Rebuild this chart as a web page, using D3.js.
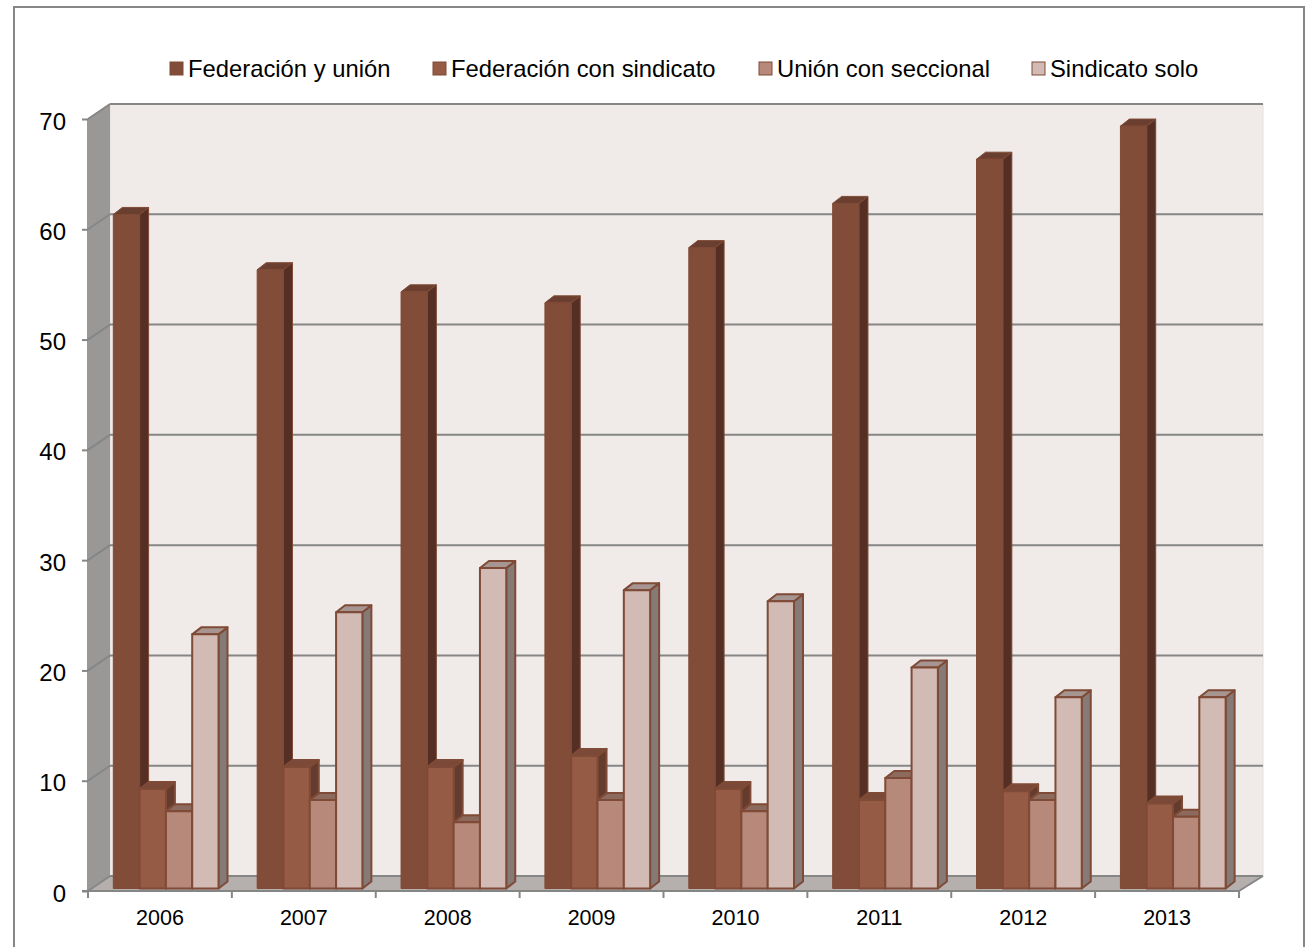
<!DOCTYPE html>
<html>
<head>
<meta charset="utf-8">
<script src="https://cdn.jsdelivr.net/npm/d3@7"></script>
<style>
  html, body { margin: 0; padding: 0; background: #fff; }
  svg { display: block; }
  text { font-family: "Liberation Sans", Arial, sans-serif; fill: #000; }
  .axis path { display: none; }
  .axis line { stroke: #868686; stroke-width: 2; }
</style>
</head>
<body>
<div id="chart"></div>
<script>
const years = ["2006", "2007", "2008", "2009", "2010", "2011", "2012", "2013"];
const seriesNames = ["Federación y unión", "Federación con sindicato", "Unión con seccional", "Sindicato solo"];
const federacionUnion = [61, 56, 54, 53, 58, 62, 66, 69];
const federacionSindicato = [9, 11, 11, 12, 9, 8, 8.8, 7.7];
const unionSeccional = [7, 8, 6, 8, 7, 10, 8, 6.5];
const sindicatoSolo = [23, 25, 29, 27, 26, 20, 17.3, 17.3];
const yTicks = [0, 10, 20, 30, 40, 50, 60, 70];

const seriesValues = [federacionUnion, federacionSindicato, unionSeccional, sindicatoSolo];
const frontColors = ["#814c38", "#965b45", "#b7897a", "#d1bbb4"];
const topColors = ["#6b3f2f", "#7a4937", "#8d6a5e", "#a69590"];
const sideColors = ["#552f24", "#643c2d", "#7a5c52", "#857a76"];
const edgeColor = "#7f4a36";

const width = 1306;
const height = 947;

// oblique depth of the chart box and of each bar
const wallDx = 22, wallDy = -15;
const barDx = 9, barDy = -7;

const svg = d3.select("#chart").append("svg")
  .attr("width", width)
  .attr("height", height)
  .attr("viewBox", `0 0 ${width} ${height}`);

// chart frame, runs off the bottom of the picture
svg.append("rect")
  .attr("x", 14).attr("y", 7)
  .attr("width", 1290).attr("height", 960)
  .attr("fill", "#fff").attr("stroke", "#868686").attr("stroke-width", 2);

const x = d3.scaleBand().domain(years).range([88, 1239]);
const y = d3.scaleLinear().domain([0, 70]).range([891, 119]);
const barY = d3.scaleLinear().domain([0, 70]).range([888.5, 115]);
const inner = d3.scaleBand().domain(d3.range(4)).range([25.3, 130.5]);

const poly = (pts) => pts.map((p) => p.join(",")).join(" ");

const x0 = x.range()[0], x1 = x.range()[1];

/* ---------- Walls and floor ---------- */
svg.append("polygon")
  .attr("points", poly([[x0 + wallDx, y(70) + wallDy], [x0 + wallDx + 1153, y(70) + wallDy], [x0 + wallDx + 1153, y(0) + wallDy], [x0 + wallDx, y(0) + wallDy]]))
  .attr("fill", "#f0ebe9").attr("stroke", "#e4e0de");

svg.append("polygon")
  .attr("points", poly([[x0 - 1, y(70)], [x0 + wallDx, y(70) + wallDy], [x0 + wallDx, y(0) + wallDy], [x0 - 1, y(0)]]))
  .attr("fill", "#9a9897");

svg.append("polygon")
  .attr("points", poly([[x0, y(0)], [x0 + wallDx, y(0) + wallDy], [x1 + wallDx + 2, y(0) + wallDy], [x1, y(0)]]))
  .attr("fill", "#b5afae");

/* ---------- Gridlines ---------- */
svg.selectAll(".grid-back").data(yTicks).enter().append("line")
  .attr("class", "grid-back")
  .attr("x1", x0 + wallDx).attr("x2", x1 + wallDx + 2)
  .attr("y1", (d) => y(d) + wallDy).attr("y2", (d) => y(d) + wallDy)
  .attr("stroke", "#868686").attr("stroke-width", 2);

svg.selectAll(".grid-side").data(yTicks).enter().append("line")
  .attr("class", "grid-side")
  .attr("x1", x0).attr("x2", x0 + wallDx)
  .attr("y1", (d) => y(d)).attr("y2", (d) => y(d) + wallDy)
  .attr("stroke", "#868686").attr("stroke-width", 2);

svg.append("line")
  .attr("x1", x1).attr("x2", x1 + wallDx + 2)
  .attr("y1", y(0)).attr("y2", y(0) + wallDy)
  .attr("stroke", "#868686").attr("stroke-width", 2);

/* ---------- Bars ---------- */
years.forEach((year, i) => {
  const group = svg.append("g").attr("transform", `translate(${x(year)},0)`);
  seriesValues.forEach((values, s) => {
    const left = inner(s);
    const right = left + inner.bandwidth();
    const top = barY(values[i]);
    const base = barY(0);
    const bar = group.append("g")
      .attr("stroke", edgeColor).attr("stroke-width", s === 0 ? 1 : 2).attr("stroke-linejoin", "round");
    bar.append("polygon")
      .attr("points", poly([[right, top], [right + barDx, top + barDy], [right + barDx, base + barDy], [right, base]]))
      .attr("fill", sideColors[s]);
    bar.append("polygon")
      .attr("points", poly([[left, top], [left + barDx, top + barDy], [right + barDx, top + barDy], [right, top]]))
      .attr("fill", topColors[s]);
    bar.append("rect")
      .attr("x", left).attr("y", top)
      .attr("width", right - left).attr("height", base - top)
      .attr("fill", frontColors[s]);
  });
});

/* ---------- Axes ---------- */
const xAxis = svg.append("g").attr("class", "axis")
  .attr("transform", `translate(0,${y(0)})`)
  .call(d3.axisBottom(x).tickSize(0));
xAxis.selectAll("text").attr("font-size", "21.5px").attr("y", 18.5).attr("dy", "0.71em")
  .style("font-family", '"Liberation Sans", Arial, sans-serif');

svg.append("line")
  .attr("x1", x0 - 6).attr("x2", x1)
  .attr("y1", y(0)).attr("y2", y(0))
  .attr("stroke", "#868686").attr("stroke-width", 2);

svg.selectAll(".x-tick").data(d3.range(years.length + 1)).enter().append("line")
  .attr("class", "x-tick")
  .attr("x1", (d) => x0 + d * x.step()).attr("x2", (d) => x0 + d * x.step())
  .attr("y1", y(0)).attr("y2", y(0) + 7)
  .attr("stroke", "#868686").attr("stroke-width", 2);

const yAxis = svg.append("g").attr("class", "axis")
  .attr("transform", `translate(${x0},0)`)
  .call(d3.axisLeft(y).tickValues(yTicks).tickSize(6).tickPadding(16));
yAxis.selectAll("text").attr("font-size", "24px").attr("dy", "0.42em")
  .style("font-family", '"Liberation Sans", Arial, sans-serif');

/* ---------- Legend ---------- */
const legendX = [170, 433, 759, 1032];
const legend = svg.selectAll(".legend-item").data(seriesNames).enter().append("g")
  .attr("class", "legend-item")
  .attr("transform", (d, i) => `translate(${legendX[i]},62)`);

legend.append("rect")
  .attr("width", 13).attr("height", 13)
  .attr("fill", (d, i) => frontColors[i])
  .attr("stroke", edgeColor).attr("stroke-width", 1);

legend.append("text")
  .attr("x", 18).attr("y", 15)
  .attr("font-size", "23.8px")
  .text((d) => d);
</script>
</body>
</html>
